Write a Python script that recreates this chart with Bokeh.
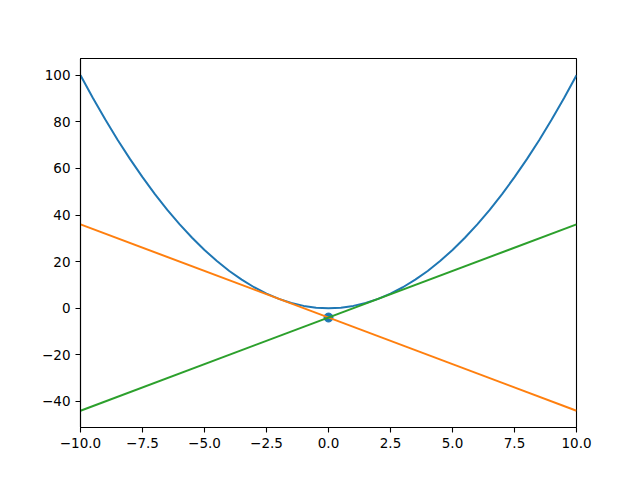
from bokeh.plotting import figure
from bokeh.models import Range1d, FixedTicker, CustomJSTickFormatter
from bokeh.embed import file_html
from bokeh.resources import INLINE

# Parabola samples
curve_x = [-10, -9.5, -9, -8.5, -8, -7.5, -7, -6.5, -6, -5.5, -5, -4.5, -4, -3.5, -3, -2.5, -2, -1.5, -1, -0.5,
           0, 0.5, 1, 1.5, 2, 2.5, 3, 3.5, 4, 4.5, 5, 5.5, 6, 6.5, 7, 7.5, 8, 8.5, 9, 9.5, 10]
curve_y = [100, 90.25, 81, 72.25, 64, 56.25, 49, 42.25, 36, 30.25, 25, 20.25, 16, 12.25, 9, 6.25, 4, 2.25, 1, 0.25,
           0, 0.25, 1, 2.25, 4, 6.25, 9, 12.25, 16, 20.25, 25, 30.25, 36, 42.25, 49, 56.25, 64, 72.25, 81, 90.25, 100]

# Tangent lines
tan1_x = [-10, 10]
tan1_y = [36, -44]
tan2_x = [-10, 10]
tan2_y = [-44, 36]

# Intersection point
pt_x = [0]
pt_y = [-4]

x_ticks = [-10, -7.5, -5, -2.5, 0, 2.5, 5, 7.5, 10]
y_ticks = [-40, -20, 0, 20, 40, 60, 80, 100]

p = figure(width=624, height=464, output_backend="svg", toolbar_location=None,
           x_range=Range1d(-10, 10), y_range=Range1d(-51.2, 107.2),
           min_border_left=80, min_border_right=48, min_border_top=58, min_border_bottom=37)

p.background_fill_color = "white"
p.border_fill_color = "white"
p.outline_line_color = "black"
p.outline_line_width = 1.1
p.xgrid.visible = False
p.ygrid.visible = False

p.scatter(pt_x, pt_y, size=9, color="#1f77b4")
p.line(curve_x, curve_y, line_width=2, color="#1f77b4")
p.line(tan1_x, tan1_y, line_width=2, color="#ff7f0e")
p.line(tan2_x, tan2_y, line_width=2, color="#2ca02c")

p.xaxis.ticker = FixedTicker(ticks=x_ticks)
p.yaxis.ticker = FixedTicker(ticks=y_ticks)
p.xaxis.formatter = CustomJSTickFormatter(code="return tick.toFixed(1).replace('-', '\u2212');")
p.yaxis.formatter = CustomJSTickFormatter(code="return tick.toFixed(0).replace('-', '\u2212');")

for ax in (p.xaxis, p.yaxis):
    ax.axis_line_color = "black"
    ax.axis_line_width = 1.1
    ax.major_tick_line_color = "black"
    ax.major_tick_line_width = 1.1
    ax.major_tick_out = 5
    ax.major_tick_in = 0
    ax.minor_tick_line_color = None
    ax.major_label_text_font = "DejaVu Sans"
    ax.major_label_text_font_size = "13.5px"
    ax.major_label_text_color = "black"
    ax.major_label_standoff = 5

open("out.html", "w").write(file_html(p, INLINE))
